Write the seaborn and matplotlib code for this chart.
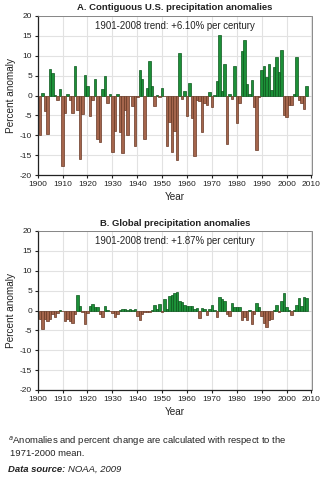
import numpy as np
import pandas as pd
import matplotlib
matplotlib.use("Agg")
import matplotlib.pyplot as plt
import seaborn as sns

years = list(range(1901, 2009))

us_anomaly = [
    -10.0, 0.7, -4.0, -9.7, 6.7, 5.7, 0.2, -1.2, 1.7, -17.8,
    -4.5, 0.3, -1.2, -4.5, 7.4, -3.6, -16.0, -4.6, 5.2, 2.4,
    -5.2, -1.1, 4.2, -11.0, -11.6, 1.7, 4.9, -2.0, 0.3, -14.3,
    -9.0, 0.3, -9.2, -14.5, -3.7, -9.9, -0.2, -2.6, -12.6, -0.3,
    6.4, 4.2, -10.9, 1.8, 8.7, 2.3, -2.7, 0.1, -0.4, 2.0,
    -0.2, -12.7, -6.6, -14.2, -9.0, -16.3, 10.6, -1.0, 1.2, -5.2,
    3.1, -5.6, -15.3, -1.2, -1.5, -9.2, -2.0, -2.4, 0.9, -2.8,
    0.2, 3.7, 15.1, 1.1, 7.8, -12.2, 0.3, -0.9, 7.4, -6.9,
    -1.8, 11.2, 13.9, 2.9, 0.3, 3.8, -2.9, -13.6, -0.5, 6.4,
    7.4, 4.6, 7.9, 1.4, 7.2, 9.8, 5.8, 11.5, -5.0, -5.3,
    -2.5, -2.3, 0.3, 9.7, -1.2, -1.9, -3.5, 2.5,
]

global_anomaly = [
    -2.1, -4.6, -2.1, -2.6, -2.2, -0.8, -1.7, -0.6, 0.1, -0.2,
    -2.7, -2.1, -2.7, -3.1, -0.8, 3.9, 1.2, -0.4, -3.3, -0.6,
    1.2, 1.7, 0.8, 0.8, -0.8, -1.7, 1.1, 0.1, -0.1, -0.6,
    -1.7, -0.8, 0.1, 0.3, 0.3, 0.1, 0.4, 0.1, 0.4, -1.3,
    -2.3, -0.8, -0.5, -0.4, -0.4, 0.1, 1.4, 0.4, 1.7, -0.4,
    2.9, 0.5, 3.7, 3.8, 4.4, 4.6, 2.5, 2.1, 1.5, 1.2,
    1.2, 1.1, 0.5, 0.7, -1.8, 0.7, 0.5, -1.2, 0.3, 1.5,
    0.1, -1.6, 3.4, 2.8, 2.3, -0.8, -1.3, 1.9, 0.9, 0.9,
    0.9, -2.4, -1.6, -2.5, 0.1, -3.5, -1.0, 1.8, 0.9, -1.4,
    -3.1, -4.1, -2.4, -2.2, 0.1, 1.5, -0.4, 2.3, 4.3, 1.0,
    0.1, -1.2, 0.1, 1.3, 3.2, 1.2, 3.3, 3.2,
]

titles = ["A. Contiguous U.S. precipitation anomalies",
          "B. Global precipitation anomalies"]
trends = ["1901-2008 trend: +6.10% per century",
          "1901-2008 trend: +1.87% per century"]
x_ticks = list(range(1900, 2011, 10))
y_ticks = list(range(-20, 21, 5))

sns.set_theme(style="white")
FONT = ["Liberation Sans Narrow", "Liberation Sans", "DejaVu Sans"]
plt.rcParams["font.family"] = FONT

GREEN = "#1c9038"
GREEN_EDGE = "#0b561c"
BROWN = "#a4654c"
BROWN_EDGE = "#683824"
TXT = "#222222"

W, H = 324, 479
fig = plt.figure(figsize=(W / 100, H / 100), dpi=100)

def fx(px):
    return px / W

def fy(py):
    return 1 - py / H

panels = [
    (us_anomaly, 16, 175, 7, titles[0], trends[0], 0.935),
    (global_anomaly, 231, 390, 223, titles[1], trends[1], 0.94),
]

for vals, top, bot, ty, title, trend, trend_y in panels:
    ax = fig.add_axes([fx(37.7), fy(bot), fx(311.5) - fx(37.7), fy(top) - fy(bot)])
    df = pd.DataFrame({"year": years, "anomaly": vals})
    df["sign"] = np.where(df["anomaly"] >= 0, "pos", "neg")
    for s, c, e in [("pos", GREEN, GREEN_EDGE), ("neg", BROWN, BROWN_EDGE)]:
        sub = df[df["sign"] == s]
        sns.barplot(data=sub, x="year", y="anomaly", native_scale=True,
                    width=1.0, color=c, edgecolor=e, linewidth=0.5,
                    errorbar=None, ax=ax, zorder=3, saturation=1)
    ax.set_xlim(1900, 2010)
    ax.set_ylim(-20, 20)
    ax.set_xticks(x_ticks)
    ax.set_yticks(y_ticks)
    ax.set_xticklabels([str(t) for t in x_ticks], fontsize=6.0)
    ax.set_yticklabels([str(t) for t in y_ticks], fontsize=6.0)
    ax.grid(True, color="#e2e2e2", linewidth=0.8, zorder=0)
    ax.set_axisbelow(True)
    ax.axhline(0, color="#d0d0d0", linewidth=0.6, zorder=2)
    for side in ["top", "right"]:
        ax.spines[side].set_color("#777777")
        ax.spines[side].set_linewidth(0.6)
    for side in ["left", "bottom"]:
        ax.spines[side].set_color(TXT)
        ax.spines[side].set_linewidth(0.9)
    ax.tick_params(axis="both", which="both", length=2.5, width=0.8,
                   color=TXT, pad=1.5, labelcolor=TXT,
                   bottom=True, left=True)
    ax.set_xlabel("Year", fontsize=7.2, labelpad=3, color=TXT)
    ax.set_ylabel("Percent anomaly", fontsize=7.2, labelpad=3, color=TXT)
    ax.text(0.5, trend_y, trend, transform=ax.transAxes,
            ha="center", va="center", fontsize=6.9, color=TXT)
    fig.text(fx(175), fy(ty), title, ha="center", va="center",
             fontsize=6.8, fontweight="bold", color=TXT)

fig.text(fx(8), fy(441),
         r"$^{a}$Anomalies and percent change are calculated with respect to the",
         ha="left", va="center", fontsize=6.8, color=TXT)
fig.text(fx(10), fy(453), "1971-2000 mean.", ha="left", va="center",
         fontsize=6.8, color=TXT)
ds = fig.text(fx(8), fy(469), "Data source:", ha="left", va="center",
              fontsize=6.8, fontweight="bold", fontstyle="italic", color=TXT)
fig.canvas.draw()
bb = ds.get_window_extent(renderer=fig.canvas.get_renderer())
fig.text((bb.x1 + 3) / (W), fy(469), "NOAA, 2009", ha="left", va="center",
         fontsize=6.8, fontstyle="italic", color=TXT)

fig.savefig("out.png", dpi=100)
